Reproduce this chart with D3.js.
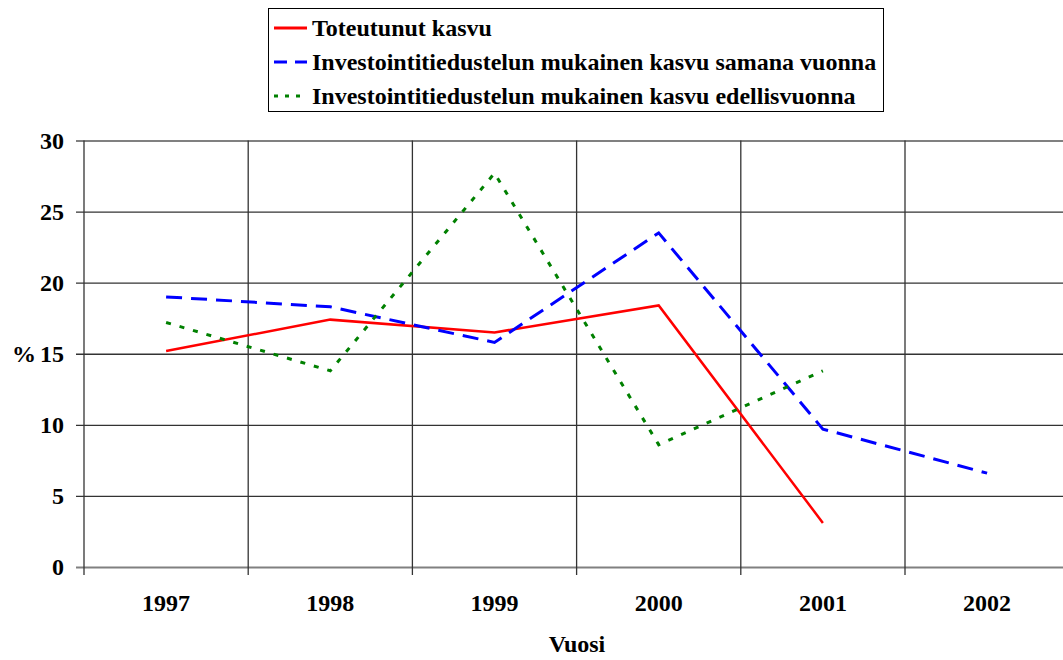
<!DOCTYPE html>
<html>
<head>
<meta charset="utf-8">
<script src="https://cdn.jsdelivr.net/npm/d3@7"></script>
<style>
  body { margin: 0; background: #fff; }
  svg { display: block; font-family: "Liberation Serif", "Times New Roman", serif; font-weight: bold; }
</style>
</head>
<body>
<svg></svg>
<script>
// chart data
let years = ['1997', '1998', '1999', '2000', '2001', '2002']
let toteutunut = [15.2, 17.4, 16.5, 18.4, 3.1, null]
let samanaVuonna = [19.0, 18.3, 15.8, 23.5, 9.7, 6.6]
let edellisVuonna = [17.2, 13.8, 27.7, 8.6, 13.8, null]
let yTicks = [0, 5, 10, 15, 20, 25, 30]
let seriesNames = [
    'Toteutunut kasvu',
    'Investointitiedustelun mukainen kasvu samana vuonna',
    'Investointitiedustelun mukainen kasvu edellisvuonna'
]

let width = 1063
let height = 660

let plotLeft = 84
let plotTop = 140.5
let plotBottom = 567
let bandWidth = 164.2
let fontSize = 24

let svg = d3.select('svg')
    .attr('width', width)
    .attr('height', height)

let xScale = d3.scaleBand()
    .domain(years)
    .range([plotLeft, plotLeft + bandWidth * years.length])
    .paddingInner(0)
    .paddingOuter(0)

let yScale = d3.scaleLinear()
    .domain([0, 30])
    .range([plotBottom, plotTop])

// horizontal gridlines + y ticks
let yAxis = d3.axisLeft(yScale)
    .tickValues(yTicks)
    .tickSize(-(width - plotLeft + 10))
    .tickPadding(20)

let gy = svg.append('g')
    .attr('transform', 'translate(' + plotLeft + ',0)')
    .call(yAxis)
gy.attr('font-family', null).attr('font-size', null)
gy.select('.domain').remove()
gy.selectAll('.tick line')
    .attr('x1', -8)
    .attr('stroke', (d) => d === 0 || d === 30 ? '#808080' : '#333')
    .attr('stroke-width', (d) => d === 0 || d === 30 ? 2 : 1.3)
gy.selectAll('.tick text')
    .attr('font-size', fontSize)
    .attr('fill', '#000')

// vertical gridlines at band boundaries
let boundaries = years.map((y) => xScale(y)).concat([xScale(years[years.length - 1]) + bandWidth])
svg.append('g')
    .selectAll('line')
    .data(boundaries)
    .enter()
    .append('line')
    .attr('x1', (d) => d)
    .attr('x2', (d) => d)
    .attr('y1', plotTop)
    .attr('y2', plotBottom + 8)
    .attr('stroke', '#333')
    .attr('stroke-width', 1.3)

// x labels
svg.append('g')
    .selectAll('text')
    .data(years)
    .enter()
    .append('text')
    .attr('x', (d) => xScale(d) + bandWidth / 2)
    .attr('y', 611)
    .attr('text-anchor', 'middle')
    .attr('font-size', fontSize)
    .text((d) => d)

// axis titles
svg.append('text')
    .attr('x', 577)
    .attr('y', 652)
    .attr('text-anchor', 'middle')
    .attr('font-size', fontSize)
    .text('Vuosi')

svg.append('text')
    .attr('x', 12)
    .attr('y', yScale(15) + 8)
    .attr('font-size', fontSize)
    .text('%')

// lines
let seriesData = [
    { name: seriesNames[0], values: toteutunut, color: '#ff0000', dash: null, w: 2.5, legendDash: null },
    { name: seriesNames[1], values: samanaVuonna, color: '#0000ff', dash: '16,9', w: 3, legendDash: '13,8' },
    { name: seriesNames[2], values: edellisVuonna, color: '#008000', dash: '5,9', w: 3, legendDash: '4,7' }
]

let line = d3.line()
    .defined((d) => d.v !== null)
    .x((d) => xScale(d.year) + bandWidth / 2)
    .y((d) => yScale(d.v))

seriesData.forEach((s) => {
    let pts = years.map((y, i) => ({ year: y, v: s.values[i] }))
    svg.append('path')
        .datum(pts)
        .attr('d', line)
        .attr('fill', 'none')
        .attr('stroke', s.color)
        .attr('stroke-width', s.w)
        .attr('stroke-dasharray', s.dash)
})

// legend
let legend = svg.append('g')
legend.append('rect')
    .attr('x', 268.5)
    .attr('y', 8.5)
    .attr('width', 615)
    .attr('height', 103)
    .attr('fill', '#fff')
    .attr('stroke', '#000')
    .attr('stroke-width', 1)

let items = legend.selectAll('.item')
    .data(seriesData)
    .enter()
    .append('g')
    .attr('transform', (d, i) => 'translate(0,' + (28 + i * 34) + ')')

items.append('line')
    .attr('x1', 274)
    .attr('x2', 307)
    .attr('stroke', (d) => d.color)
    .attr('stroke-width', 3)
    .attr('stroke-dasharray', (d) => d.legendDash)

items.append('text')
    .attr('x', 312)
    .attr('y', 8)
    .attr('font-size', fontSize)
    .text((d) => d.name)
</script>
</body>
</html>
